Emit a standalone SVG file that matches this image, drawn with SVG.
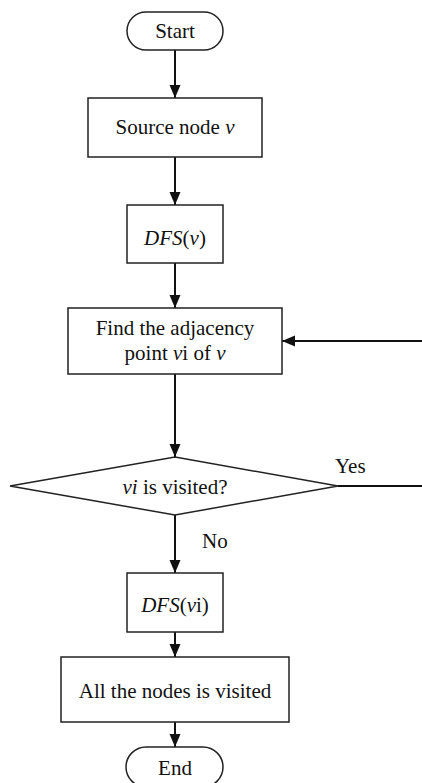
<svg xmlns="http://www.w3.org/2000/svg" width="422" height="783" viewBox="0 0 422 783" font-family="'Liberation Serif', 'Times New Roman', 'DejaVu Serif', serif">
<style>
.box{fill:#fff;stroke:#222;stroke-width:1.5}
.ln{fill:none;stroke:#111;stroke-width:2}
text{font-family:'Liberation Serif','Times New Roman','DejaVu Serif',serif;font-size:21px;fill:#111}
.c{text-anchor:middle}
.i{font-style:italic}
</style>
<defs>
<marker id="ah" markerUnits="userSpaceOnUse" markerWidth="14" markerHeight="14" viewBox="0 0 14 14" refX="13" refY="7" orient="auto">
<path d="M0,1.5 L13,7 L0,12.5 Z" fill="#111"/>
</marker>
</defs>
<rect width="422" height="783" fill="#fff"/>
<g id="connectors">
<line class="ln" x1="175" y1="50" x2="175" y2="98" marker-end="url(#ah)"/>
<line class="ln" x1="175" y1="157" x2="175" y2="205" marker-end="url(#ah)"/>
<line class="ln" x1="175" y1="263" x2="175" y2="308" marker-end="url(#ah)"/>
<line class="ln" x1="175" y1="374" x2="175" y2="457" marker-end="url(#ah)"/>
<line class="ln" x1="175" y1="515" x2="175" y2="573" marker-end="url(#ah)"/>
<line class="ln" x1="175" y1="632" x2="175" y2="657" marker-end="url(#ah)"/>
<line class="ln" x1="175" y1="722" x2="175" y2="747" marker-end="url(#ah)"/>
<polyline class="ln" points="338,486 425,486 425,341 282,341" marker-end="url(#ah)"/>
<text x="335" y="473">Yes</text>
<text x="202" y="548">No</text>
</g>
<g id="start">
<rect class="box" x="127" y="12" width="96" height="38" rx="19"/>
<text class="c" x="175" y="38">Start</text>
</g>
<g id="source">
<rect class="box" x="88" y="98" width="174" height="59"/>
<text class="c" x="175" y="134">Source node <tspan class="i">v</tspan></text>
</g>
<g id="dfs">
<rect class="box" x="127" y="205" width="96" height="58"/>
<text class="c" x="175" y="245"><tspan class="i">DFS</tspan>(<tspan class="i">v</tspan>)</text>
</g>
<g id="find">
<rect class="box" x="68" y="308" width="214" height="66"/>
<text class="c" x="175" y="335">Find the adjacency</text>
<text class="c" x="175" y="360">point <tspan class="i">v</tspan>i of <tspan class="i">v</tspan></text>
</g>
<g id="decision">
<polygon class="box" points="175,457 338,486 175,515 10,486"/>
<text class="c" x="175" y="494"><tspan class="i">vi</tspan> is visited?</text>
</g>
<g id="dfsvi">
<rect class="box" x="127" y="573" width="96" height="59"/>
<text class="c" x="175" y="612"><tspan class="i">DFS</tspan>(<tspan class="i">v</tspan>i)</text>
</g>
<g id="allvisited">
<rect class="box" x="61" y="657" width="228" height="65"/>
<text class="c" x="175" y="698">All the nodes is visited</text>
</g>
<g id="end">
<rect class="box" x="126" y="747" width="97" height="40" rx="20"/>
<text class="c" x="175" y="775">End</text>
</g>
</svg>
